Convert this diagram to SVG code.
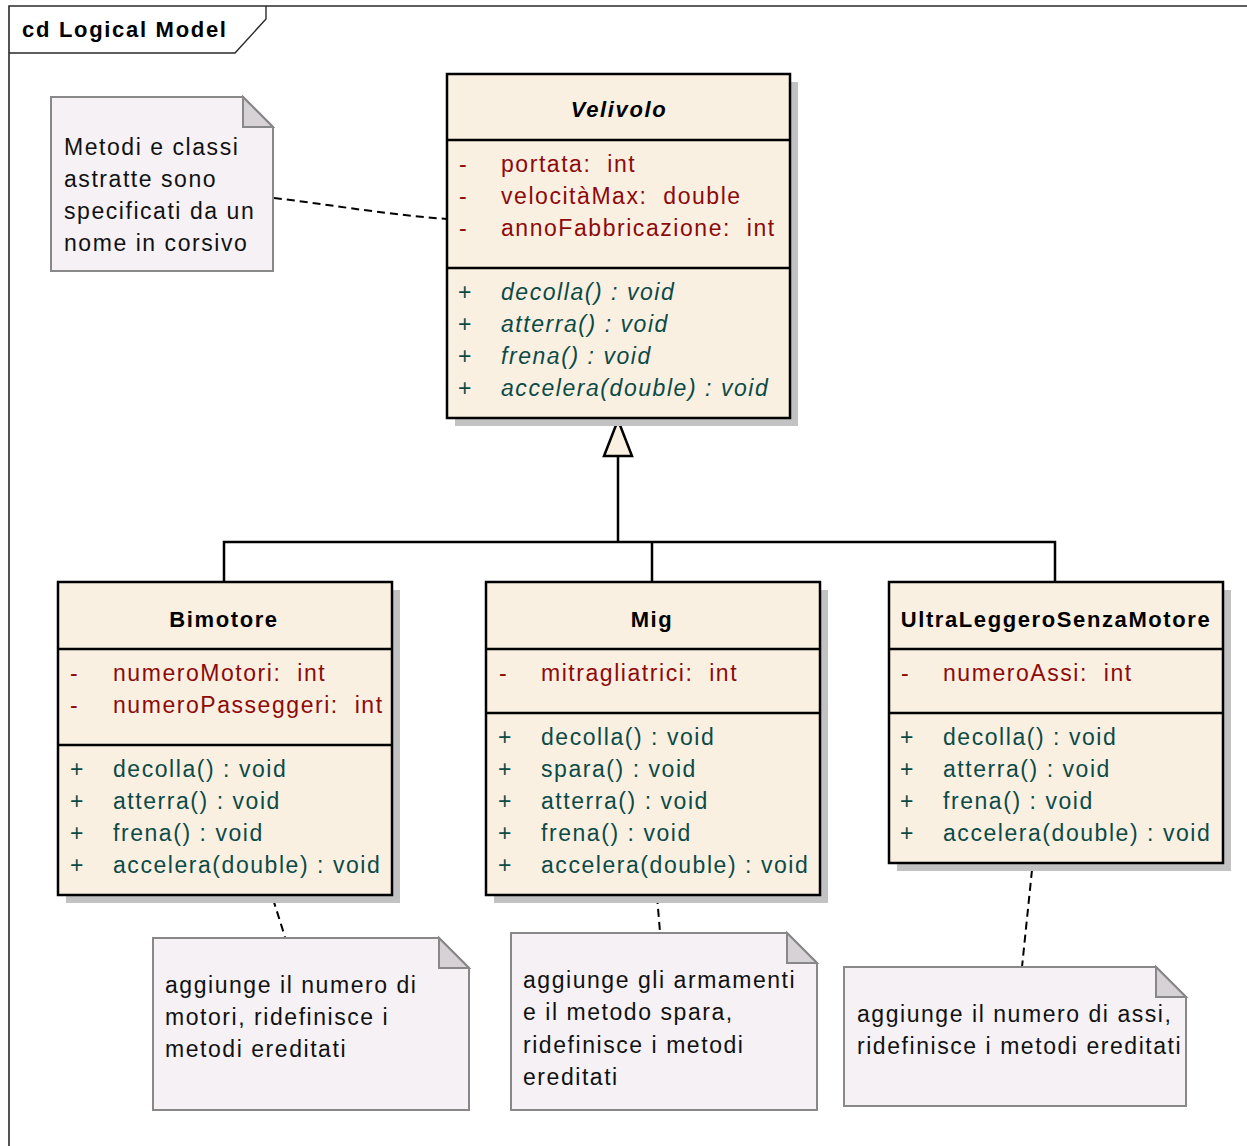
<svg xmlns="http://www.w3.org/2000/svg" width="1247" height="1146" viewBox="0 0 1247 1146">
  <style>
    text { font-family: "Liberation Sans", Arial, sans-serif; font-size: 23px; letter-spacing: 1.55px; white-space: pre; }
    .title { font-size: 22px; font-weight: bold; fill: #000; text-anchor: middle; letter-spacing: 1.6px; }
    .abstract { font-style: italic; }
    .attr { fill: #8c0a0a; }
    .op { fill: #0c4a46; }
    .note-text { fill: #111; }
    .cls { fill: #faf0e2; stroke: #000; stroke-width: 2.5; }
    .shadow { fill: #c2c2c2; }
    .sep { stroke: #000; stroke-width: 2.5; }
    .note { fill: #f5f1f5; stroke: #888; stroke-width: 2; }
    .fold { fill: #d6d2d6; stroke: #888; stroke-width: 2; stroke-linejoin: miter; }
    .gen { fill: none; stroke: #000; stroke-width: 2.5; }
    .anchor { fill: none; stroke: #000; stroke-width: 2; stroke-dasharray: 8 5; }
  </style>

  <rect width="1247" height="1146" fill="#fff"/>

  <!-- diagram frame with name tab -->
  <g id="frame">
    <path d="M9 1146 V6 H1247" fill="none" stroke="#2a2a2a" stroke-width="1.6"/>
    <path d="M9 53 H235 L266 19 V6" fill="none" stroke="#2a2a2a" stroke-width="1.4"/>
    <text x="22" y="37" style="font-size:22px; font-weight:bold; letter-spacing:1.7px" fill="#000">cd Logical Model</text>
  </g>

  <!-- connectors -->
  <g id="connectors">
    <!-- generalization tree -->
    <path class="gen" d="M618 456 V542 M224 582 V542 H1055 V582 M652 542 V582"/>
    <polygon points="618,420 604,456 632,456" fill="#faf0e2" stroke="#000" stroke-width="2.5" stroke-linejoin="miter"/>
    <!-- note anchors -->
    <path class="anchor" d="M274 198 C320 203 380 214 447 219"/>
    <path class="anchor" d="M273 899 L285 937"/>
    <path class="anchor" d="M657 896 L660 932"/>
    <path class="anchor" d="M1032 870 L1022 967"/>
  </g>

  <!-- Velivolo (abstract) -->
  <g id="Velivolo">
    <rect class="shadow" x="455" y="82" width="343" height="344"/>
    <rect class="cls" x="447" y="74" width="343" height="344"/>
    <line class="sep" x1="447" y1="140" x2="790" y2="140"/>
    <line class="sep" x1="447" y1="268" x2="790" y2="268"/>
    <text class="title abstract" x="619" y="117">Velivolo</text>
    <text class="attr" x="459" y="172">-</text>
    <text class="attr" x="501" y="172">portata:  int</text>
    <text class="attr" x="459" y="204">-</text>
    <text class="attr" x="501" y="204">velocitàMax:  double</text>
    <text class="attr" x="459" y="236">-</text>
    <text class="attr" x="501" y="236">annoFabbricazione:  int</text>
    <text class="op" x="458" y="300">+</text>
    <text class="op abstract" x="501" y="300">decolla() : void</text>
    <text class="op" x="458" y="332">+</text>
    <text class="op abstract" x="501" y="332">atterra() : void</text>
    <text class="op" x="458" y="364">+</text>
    <text class="op abstract" x="501" y="364">frena() : void</text>
    <text class="op" x="458" y="396">+</text>
    <text class="op abstract" x="501" y="396">accelera(double) : void</text>
  </g>

  <!-- Bimotore -->
  <g id="Bimotore">
    <rect class="shadow" x="66" y="590" width="334" height="313"/>
    <rect class="cls" x="58" y="582" width="334" height="313"/>
    <line class="sep" x1="58" y1="649" x2="392" y2="649"/>
    <line class="sep" x1="58" y1="745" x2="392" y2="745"/>
    <text class="title" x="224" y="627">Bimotore</text>
    <text class="attr" x="70" y="681">-</text>
    <text class="attr" x="113" y="681">numeroMotori:  int</text>
    <text class="attr" x="70" y="713">-</text>
    <text class="attr" x="113" y="713">numeroPasseggeri:  int</text>
    <text class="op" x="70" y="777">+</text>
    <text class="op" x="113" y="777">decolla() : void</text>
    <text class="op" x="70" y="809">+</text>
    <text class="op" x="113" y="809">atterra() : void</text>
    <text class="op" x="70" y="841">+</text>
    <text class="op" x="113" y="841">frena() : void</text>
    <text class="op" x="70" y="873">+</text>
    <text class="op" x="113" y="873">accelera(double) : void</text>
  </g>

  <!-- Mig -->
  <g id="Mig">
    <rect class="shadow" x="494" y="590" width="334" height="313"/>
    <rect class="cls" x="486" y="582" width="334" height="313"/>
    <line class="sep" x1="486" y1="649" x2="820" y2="649"/>
    <line class="sep" x1="486" y1="713" x2="820" y2="713"/>
    <text class="title" x="652" y="627">Mig</text>
    <text class="attr" x="499" y="681">-</text>
    <text class="attr" x="541" y="681">mitragliatrici:  int</text>
    <text class="op" x="498" y="745">+</text>
    <text class="op" x="541" y="745">decolla() : void</text>
    <text class="op" x="498" y="777">+</text>
    <text class="op" x="541" y="777">spara() : void</text>
    <text class="op" x="498" y="809">+</text>
    <text class="op" x="541" y="809">atterra() : void</text>
    <text class="op" x="498" y="841">+</text>
    <text class="op" x="541" y="841">frena() : void</text>
    <text class="op" x="498" y="873">+</text>
    <text class="op" x="541" y="873">accelera(double) : void</text>
  </g>

  <!-- UltraLeggeroSenzaMotore -->
  <g id="UltraLeggeroSenzaMotore">
    <rect class="shadow" x="897" y="590" width="334" height="281"/>
    <rect class="cls" x="889" y="582" width="334" height="281"/>
    <line class="sep" x1="889" y1="649" x2="1223" y2="649"/>
    <line class="sep" x1="889" y1="713" x2="1223" y2="713"/>
    <text class="title" x="1056" y="627">UltraLeggeroSenzaMotore</text>
    <text class="attr" x="901" y="681">-</text>
    <text class="attr" x="943" y="681">numeroAssi:  int</text>
    <text class="op" x="900" y="745">+</text>
    <text class="op" x="943" y="745">decolla() : void</text>
    <text class="op" x="900" y="777">+</text>
    <text class="op" x="943" y="777">atterra() : void</text>
    <text class="op" x="900" y="809">+</text>
    <text class="op" x="943" y="809">frena() : void</text>
    <text class="op" x="900" y="841">+</text>
    <text class="op" x="943" y="841">accelera(double) : void</text>
  </g>

  <!-- notes -->
  <g id="note-abstract">
    <path class="note" d="M51 97 H243 L273 127 V271 H51 Z"/>
    <path class="fold" d="M243 97 V127 H273 Z"/>
    <text class="note-text" x="64" y="155">Metodi e classi</text>
    <text class="note-text" x="64" y="187">astratte sono</text>
    <text class="note-text" x="64" y="219">specificati da un</text>
    <text class="note-text" x="64" y="251">nome in corsivo</text>
  </g>

  <g id="note-bimotore">
    <path class="note" d="M153 938 H439 L469 968 V1110 H153 Z"/>
    <path class="fold" d="M439 938 V968 H469 Z"/>
    <text class="note-text" x="165" y="993">aggiunge il numero di</text>
    <text class="note-text" x="165" y="1025">motori, ridefinisce i</text>
    <text class="note-text" x="165" y="1057">metodi ereditati</text>
  </g>

  <g id="note-mig">
    <path class="note" d="M511 933 H787 L817 963 V1110 H511 Z"/>
    <path class="fold" d="M787 933 V963 H817 Z"/>
    <text class="note-text" x="523" y="988">aggiunge gli armamenti</text>
    <text class="note-text" x="523" y="1020">e il metodo spara,</text>
    <text class="note-text" x="523" y="1053">ridefinisce i metodi</text>
    <text class="note-text" x="523" y="1085">ereditati</text>
  </g>

  <g id="note-ultraleggero">
    <path class="note" d="M844 967 H1156 L1186 997 V1106 H844 Z"/>
    <path class="fold" d="M1156 967 V997 H1186 Z"/>
    <text class="note-text" x="857" y="1022">aggiunge il numero di assi,</text>
    <text class="note-text" x="857" y="1054">ridefinisce i metodi ereditati</text>
  </g>
</svg>
